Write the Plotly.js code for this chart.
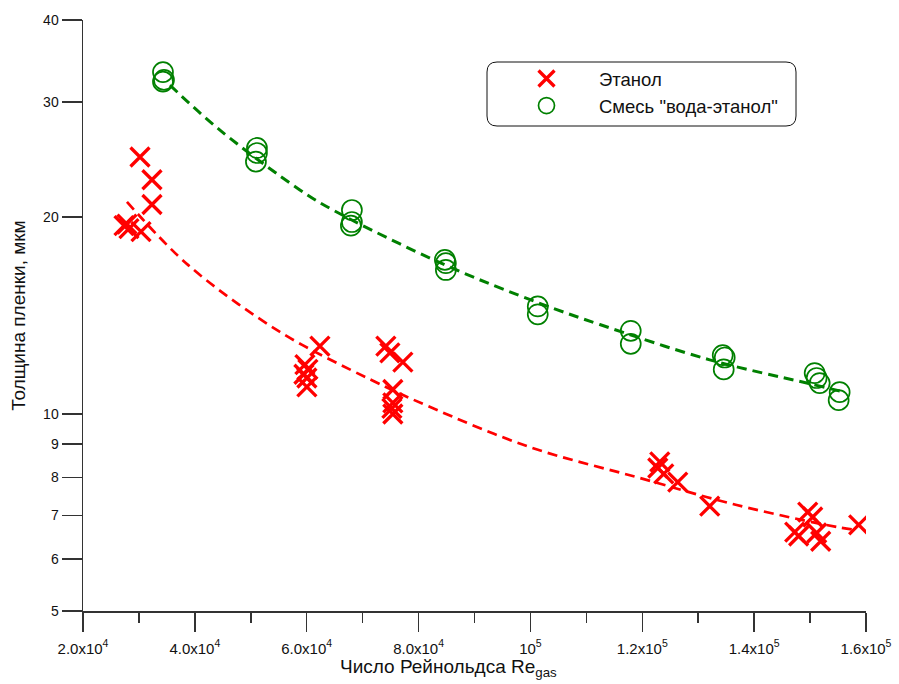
<!DOCTYPE html>
<html>
<head>
<meta charset="utf-8">
<script src="https://cdn.plot.ly/plotly-3.0.1.min.js"></script>
<style>html,body{margin:0;padding:0;background:#fff;}#chart{width:899px;height:684px;}</style>
</head>
<body>
<div id="chart"></div>
<script>
// Ethanol data (Re_gas, film thickness, µm)
const ethanolRe = [30190, 32330, 32330, 27330, 27860, 28220, 30370,
  62360, 59680, 60210, 59500, 60030, 60030,
  74150, 74870, 77190, 75400, 75400, 75230, 75400,
  123130, 122770, 123840, 126340, 132060,
  149580, 150470, 147250, 147960, 151180, 151900, 158690];
const ethanolH = [24.7, 22.8, 20.9, 19.4, 19.5, 19.2, 19.0,
  12.7, 11.9, 11.7, 11.5, 11.35, 11.0,
  12.7, 12.4, 12.0, 10.9, 10.4, 10.2, 10.0,
  8.45, 8.27, 8.1, 7.87, 7.23,
  7.08, 6.96, 6.6, 6.51, 6.58, 6.39, 6.77];

// Water-ethanol mixture data
const mixRe = [34300, 34300, 34480, 51100, 51100, 50920,
  68080, 68080, 67900, 84700, 84880, 84880,
  101310, 101310, 117940, 117940,
  134380, 134740, 134560,
  150820, 151180, 151720, 155290, 155110];
const mixH = [33.3, 32.2, 32.4, 25.5, 25.05, 24.3,
  20.5, 19.65, 19.4, 17.2, 17.0, 16.6,
  14.6, 14.2, 13.4, 12.8,
  12.3, 12.2, 11.7,
  11.55, 11.35, 11.15, 10.8, 10.5];

// Fit curves
const ethanolFitRe = [27860, 38770, 55210, 71290, 81480, 99890, 119190, 136880, 154750, 158330];
const ethanolFitH = [21.1, 16.9, 13.35, 11.3, 10.3, 8.9, 8.0, 7.26, 6.72, 6.65];
const mixFitRe = [35550, 44490, 58780, 64680, 84700, 101310, 112400, 132060, 149400, 156190];
const mixFitH = [31.8, 27.15, 22.0, 20.5, 16.9, 14.8, 13.7, 12.1, 11.15, 10.8];

// Tick labels
const xTickVals = [20000, 40000, 60000, 80000, 100000, 120000, 140000, 160000];
const xTickText = ['2.0x10<sup>4</sup>', '4.0x10<sup>4</sup>', '6.0x10<sup>4</sup>', '8.0x10<sup>4</sup>',
  '10<sup>5</sup>', '1.2x10<sup>5</sup>', '1.4x10<sup>5</sup>', '1.6x10<sup>5</sup>'];
const yTickVals = [5, 6, 7, 8, 9, 10, 20, 30, 40];
const yTickText = ['5', '6', '7', '8', '9', '10', '20', '30', '40'];

const seriesNames = ['Этанол', 'Смесь "вода-этанол"'];
const xTitle = 'Число Рейнольдса Re<sub>gas</sub>';
const yTitle = 'Толщина пленки, мкм';

const RED = '#ff0000', GREEN = '#008000';

const traces = [
  {x: ethanolFitRe, y: ethanolFitH, mode: 'lines', line: {color: RED, width: 2.7, dash: '10px,6px', shape: 'spline'}, showlegend: false, hoverinfo: 'skip'},
  {x: mixFitRe, y: mixFitH, mode: 'lines', line: {color: GREEN, width: 3, dash: '10px,6px', shape: 'spline'}, showlegend: false, hoverinfo: 'skip'},
  {x: ethanolRe, y: ethanolH, mode: 'markers', name: seriesNames[0],
   marker: {symbol: 'x-thin', size: 19, color: RED, line: {color: RED, width: 3.3}}},
  {x: mixRe, y: mixH, mode: 'markers', name: seriesNames[1],
   marker: {symbol: 'circle-open', size: 20, color: GREEN, line: {color: GREEN, width: 1.7}}}
];

const L = 83, R = 866, T = 20, B = 611;
const W = 899, H = 684;
const pw = R - L, ph = B - T;
function px(v) { return (v - L) / pw; }
function py(v) { return (B - v) / ph; }
const bx0 = px(487), bx1 = px(796), by0 = py(126), by1 = py(62);
const rx = 10 / pw, ry = 10 / ph;
const boxPath = `M ${bx0 + rx} ${by1} L ${bx1 - rx} ${by1} Q ${bx1} ${by1} ${bx1} ${by1 - ry} ` +
  `L ${bx1} ${by0 + ry} Q ${bx1} ${by0} ${bx1 - rx} ${by0} L ${bx0 + rx} ${by0} ` +
  `Q ${bx0} ${by0} ${bx0} ${by0 + ry} L ${bx0} ${by1 - ry} Q ${bx0} ${by1} ${bx0 + rx} ${by1} Z`;

const layout = {
  width: W, height: H,
  margin: {l: L, r: W - R, t: T, b: H - B},
  paper_bgcolor: '#fff', plot_bgcolor: '#fff',
  font: {family: 'Liberation Sans, Arial, sans-serif', color: '#111', size: 14},
  showlegend: true,
  legend: {x: px(494), y: py(60), xanchor: 'left', yanchor: 'top', bgcolor: 'rgba(0,0,0,0)', borderwidth: 0,
    itemwidth: 95, font: {size: 18.5, color: '#111'}, tracegroupgap: 0},
  xaxis: {
    range: [20000, 160000], autorange: false,
    tickmode: 'array', tickvals: xTickVals, ticktext: xTickText,
    ticks: 'outside', ticklen: 19, tickwidth: 1.5, tickcolor: '#333',
    showline: true, linecolor: '#333', linewidth: 1.5, showgrid: false, zeroline: false,
    tickfont: {size: 15}, ticklabelstandoff: 4,
    minor: {tickmode: 'linear', tick0: 0, dtick: 10000, ticks: 'outside', ticklen: 10, tickwidth: 1.5, tickcolor: '#333', showgrid: false}
  },
  yaxis: {
    type: 'log', range: [Math.log10(5), Math.log10(40)], autorange: false,
    tickmode: 'array', tickvals: yTickVals, ticktext: yTickText,
    ticks: 'outside', ticklen: 20, tickwidth: 1.5, tickcolor: '#333',
    showline: true, linecolor: '#333', linewidth: 1.5, showgrid: false, zeroline: false,
    tickfont: {size: 14},
    title: {text: yTitle, font: {size: 19}, standoff: 12}
  },
  annotations: [{text: xTitle, xref: 'paper', yref: 'paper', x: px(448), y: py(668), xanchor: 'center', yanchor: 'middle',
    showarrow: false, font: {size: 19, color: '#111'}}],
  shapes: [{type: 'path', xref: 'paper', yref: 'paper', path: boxPath, line: {color: '#111', width: 1}, fillcolor: 'rgba(0,0,0,0)'}]
};

Plotly.newPlot('chart', traces, layout, {displayModeBar: false, staticPlot: true});
</script>
</body>
</html>
